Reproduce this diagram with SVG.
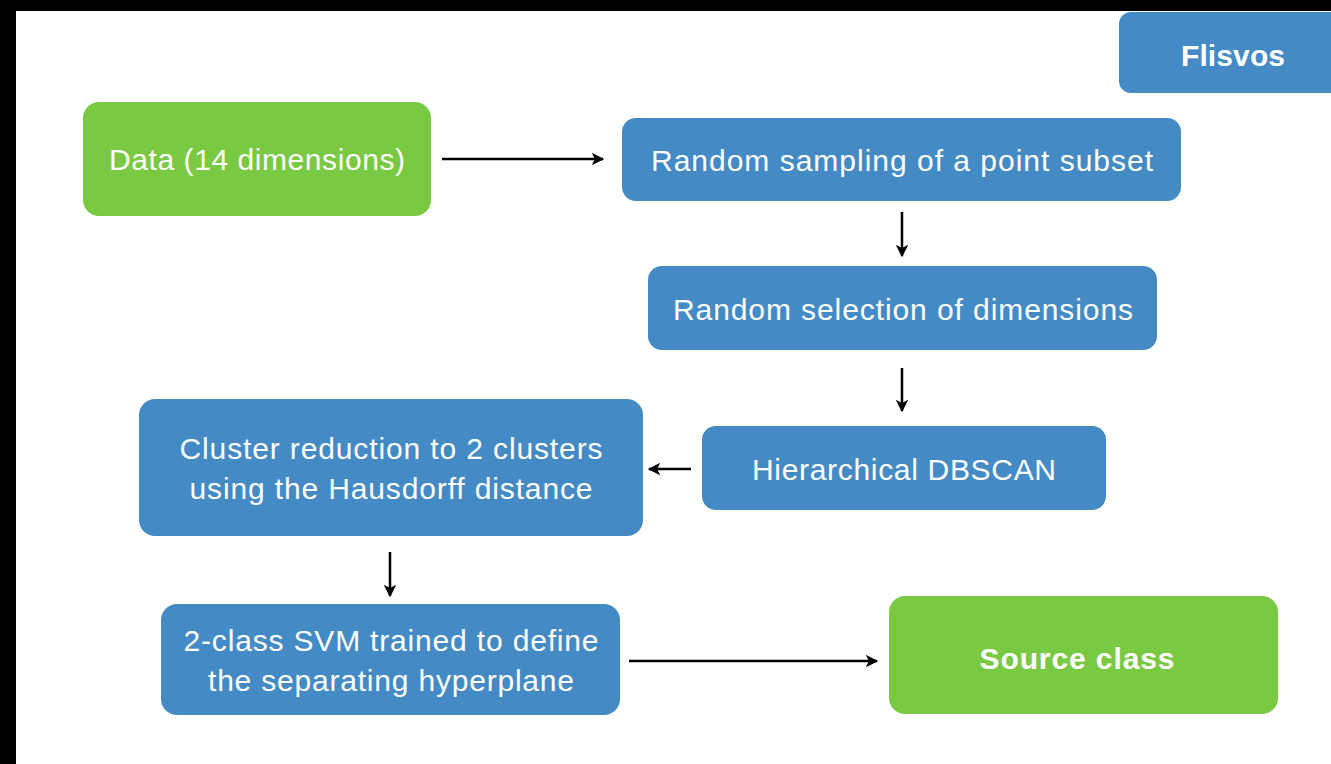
<svg xmlns="http://www.w3.org/2000/svg" width="1331" height="764" viewBox="0 0 1331 764">
<defs>
<style>
.blue{fill:#448BC6}
.green{fill:#7AC943}
.t{font-family:"Liberation Sans",Arial,sans-serif;font-size:30px;fill:#fff;text-anchor:middle}
.b{font-weight:bold}
.c{stroke:#000;stroke-width:2.5;fill:none;marker-end:url(#ah)}
</style>
<marker id="ah" viewBox="0 0 10 10" refX="9" refY="5" markerWidth="5" markerHeight="5" orient="auto" markerUnits="strokeWidth">
<path d="M0,0 L10,5 L0,10 L2.5,5 Z" fill="#000"/>
</marker>
</defs>
<rect x="0" y="0" width="1331" height="764" fill="#000"/>
<rect x="16" y="11" width="1315" height="753" fill="#fff"/>
<g id="flisvos"><rect class="blue" x="1119" y="12" width="230" height="81" rx="12"/><text class="t b" x="1233" y="66" textLength="104" lengthAdjust="spacing">Flisvos</text></g>
<g id="data"><rect class="green" x="83" y="102" width="348" height="114" rx="16"/><text class="t" x="257" y="170" textLength="296" lengthAdjust="spacing">Data (14 dimensions)</text></g>
<g id="sampling"><rect class="blue" x="622" y="118" width="559" height="83" rx="14"/><text class="t" x="902" y="171" textLength="502" lengthAdjust="spacing">Random sampling of a point subset</text></g>
<g id="selection"><rect class="blue" x="648" y="266" width="509" height="84" rx="14"/><text class="t" x="903" y="320" textLength="460" lengthAdjust="spacing">Random selection of dimensions</text></g>
<g id="dbscan"><rect class="blue" x="702" y="426" width="404" height="84" rx="14"/><text class="t" x="904" y="480" textLength="304" lengthAdjust="spacing">Hierarchical DBSCAN</text></g>
<g id="cluster"><rect class="blue" x="139" y="399" width="504" height="137" rx="16"/><text class="t" x="391" y="459" textLength="423" lengthAdjust="spacing">Cluster reduction to 2 clusters</text><text class="t" x="391" y="499" textLength="403" lengthAdjust="spacing">using the Hausdorff distance</text></g>
<g id="svm"><rect class="blue" x="161" y="604" width="459" height="111" rx="16"/><text class="t" x="391" y="651" textLength="415" lengthAdjust="spacing">2-class SVM trained to define</text><text class="t" x="391" y="691" textLength="366" lengthAdjust="spacing">the separating hyperplane</text></g>
<g id="source"><rect class="green" x="889" y="596" width="389" height="118" rx="16"/><text class="t b" x="1077" y="669" textLength="195" lengthAdjust="spacing">Source class</text></g>
<g id="connectors">
<line class="c" x1="442" y1="159" x2="603" y2="159"/>
<line class="c" x1="902" y1="212" x2="902" y2="256"/>
<line class="c" x1="902" y1="368" x2="902" y2="411"/>
<line class="c" x1="691" y1="469" x2="649" y2="469"/>
<line class="c" x1="390" y1="552" x2="390" y2="596"/>
<line class="c" x1="629" y1="661" x2="877" y2="661"/>
</g>
</svg>
